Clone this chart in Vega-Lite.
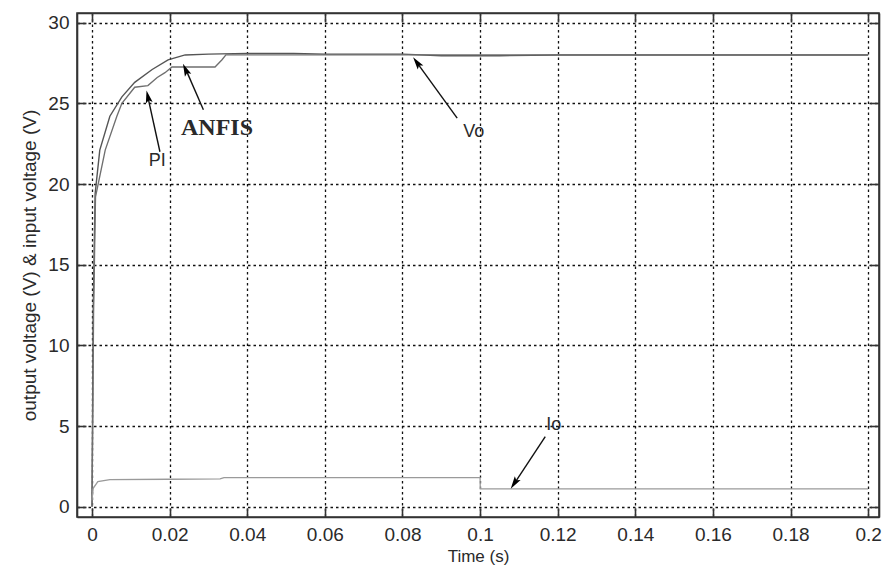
{
  "$schema": "https://vega.github.io/schema/vega-lite/v6.json",
  "width": 802,
  "height": 504,
  "autosize": {"type": "none"},
  "padding": {"left": 77, "top": 13, "right": 4, "bottom": 58},
  "background": "white",
  "config": {
    "view": {"stroke": "#333", "strokeWidth": 1.6},
    "axis": {
      "labelFont": "Liberation Sans",
      "titleFont": "Liberation Sans",
      "labelFontSize": 19,
      "titleFontSize": 17,
      "labelColor": "#2a2a2a",
      "titleColor": "#2a2a2a",
      "titleFontWeight": "normal",
      "domainColor": "#333",
      "domainWidth": 1.6,
      "tickColor": "#333",
      "tickWidth": 1.6,
      "tickSize": -9,
      "gridColor": "#111",
      "gridDash": [2.5, 3],
      "gridWidth": 1.3,
      "gridOpacity": 1
    }
  },
  "datasets": {
    "curves": [
      {"t": 0, "v": 0, "series": "ANFIS"},
      {"t": 0.0003, "v": 12, "series": "ANFIS"},
      {"t": 0.0008, "v": 19.4, "series": "ANFIS"},
      {"t": 0.002, "v": 22.1, "series": "ANFIS"},
      {"t": 0.0046, "v": 24.2, "series": "ANFIS"},
      {"t": 0.0077, "v": 25.4, "series": "ANFIS"},
      {"t": 0.011, "v": 26.3, "series": "ANFIS"},
      {"t": 0.0155, "v": 27.1, "series": "ANFIS"},
      {"t": 0.0196, "v": 27.7, "series": "ANFIS"},
      {"t": 0.024, "v": 28.0, "series": "ANFIS"},
      {"t": 0.03, "v": 28.05, "series": "ANFIS"},
      {"t": 0.04, "v": 28.1, "series": "ANFIS"},
      {"t": 0.052, "v": 28.1, "series": "ANFIS"},
      {"t": 0.06, "v": 28.05, "series": "ANFIS"},
      {"t": 0.08, "v": 28.05, "series": "ANFIS"},
      {"t": 0.09, "v": 27.95, "series": "ANFIS"},
      {"t": 0.105, "v": 27.95, "series": "ANFIS"},
      {"t": 0.12, "v": 28.0, "series": "ANFIS"},
      {"t": 0.2, "v": 28.0, "series": "ANFIS"},
      {"t": 0, "v": 0, "series": "PI"},
      {"t": 0.0004, "v": 12, "series": "PI"},
      {"t": 0.0009, "v": 19.2, "series": "PI"},
      {"t": 0.0034, "v": 22.1, "series": "PI"},
      {"t": 0.0064, "v": 24.2, "series": "PI"},
      {"t": 0.0077, "v": 25.0, "series": "PI"},
      {"t": 0.011, "v": 26.0, "series": "PI"},
      {"t": 0.0144, "v": 26.1, "series": "PI"},
      {"t": 0.0168, "v": 26.6, "series": "PI"},
      {"t": 0.0188, "v": 26.9, "series": "PI"},
      {"t": 0.0206, "v": 27.25, "series": "PI"},
      {"t": 0.0317, "v": 27.25, "series": "PI"},
      {"t": 0.0335, "v": 27.7, "series": "PI"},
      {"t": 0.0345, "v": 28.0, "series": "PI"},
      {"t": 0.06, "v": 28.0, "series": "PI"},
      {"t": 0.1, "v": 28.0, "series": "PI"},
      {"t": 0.2, "v": 28.0, "series": "PI"},
      {"t": 0, "v": 0.4, "series": "Io"},
      {"t": 0.0003, "v": 1.14, "series": "Io"},
      {"t": 0.0015, "v": 1.55, "series": "Io"},
      {"t": 0.0046, "v": 1.68, "series": "Io"},
      {"t": 0.02, "v": 1.7, "series": "Io"},
      {"t": 0.033, "v": 1.72, "series": "Io"},
      {"t": 0.034, "v": 1.8, "series": "Io"},
      {"t": 0.1, "v": 1.8, "series": "Io"},
      {"t": 0.10005, "v": 1.1, "series": "Io"},
      {"t": 0.2, "v": 1.1, "series": "Io"}
    ],
    "arrows": [
      {"name": "PI", "t": 0.0175, "v": 22.0, "t2": 0.0143, "v2": 25.5},
      {"name": "ANFIS", "t": 0.0287, "v": 24.6, "t2": 0.0240, "v2": 27.2},
      {"name": "Vo", "t": 0.0941, "v": 24.08, "t2": 0.0835, "v2": 27.6},
      {"name": "Io", "t": 0.1168, "v": 4.34, "t2": 0.1086, "v2": 1.35}
    ],
    "heads": [
      {"name": "PI", "t": 0.0144, "v": 25.42, "angle": 347.5},
      {"name": "ANFIS", "t": 0.0241, "v": 27.1, "angle": 336},
      {"name": "Vo", "t": 0.0837, "v": 27.54, "angle": 324},
      {"name": "Io", "t": 0.1088, "v": 1.44, "angle": 213.5}
    ],
    "sansLabels": [
      {"label": "PI", "t": 0.0168, "v": 21.4},
      {"label": "Vo", "t": 0.0984, "v": 23.25},
      {"label": "Io", "t": 0.119, "v": 5.06}
    ],
    "serifLabels": [
      {"label": "ANFIS", "t": 0.0322, "v": 23.46}
    ]
  },
  "resolve": {"axis": {"x": "independent", "y": "independent"}},
  "layer": [
    {
      "data": {"name": "curves"},
      "mark": {"type": "line", "interpolate": "linear"},
      "encoding": {
        "x": {
          "field": "t", "type": "quantitative",
          "scale": {"domain": [-0.00387, 0.2028], "nice": false, "zero": false},
          "axis": {"orient": "bottom", "title": "Time (s)", "format": "~g", "values": [0, 0.02, 0.04, 0.06, 0.08, 0.1, 0.12, 0.14, 0.16, 0.18, 0.2], "labelPadding": 17, "titlePadding": 4, "labelFlush": false}
        },
        "y": {
          "field": "v", "type": "quantitative",
          "scale": {"domain": [-0.64, 30.6], "nice": false, "zero": false},
          "axis": {"orient": "left", "title": "output voltage (V) & input voltage (V)", "format": "~g", "values": [0, 5, 10, 15, 20, 25, 30], "labelPadding": 17, "titlePadding": 8, "titleFontSize": 19}
        },
        "detail": {"field": "series"},
        "color": {
          "field": "series", "type": "nominal",
          "scale": {"domain": ["ANFIS", "PI", "Io"], "range": ["#555555", "#6f6f6f", "#9a9a9a"]},
          "legend": null
        },
        "strokeWidth": {
          "field": "series", "type": "nominal",
          "scale": {"domain": ["ANFIS", "PI", "Io"], "range": [1.4, 1.3, 1.6]},
          "legend": null
        }
      }
    },
    {
      "data": {"name": "curves"},
      "mark": {"type": "point", "opacity": 0},
      "encoding": {
        "x": {"field": "t", "type": "quantitative", "axis": {"orient": "top", "labels": false, "title": null, "grid": false, "values": [0, 0.02, 0.04, 0.06, 0.08, 0.1, 0.12, 0.14, 0.16, 0.18, 0.2]}},
        "y": {"field": "v", "type": "quantitative", "axis": {"orient": "right", "labels": false, "title": null, "grid": false, "values": [0, 5, 10, 15, 20, 25, 30]}}
      }
    },
    {
      "data": {"name": "arrows"},
      "mark": {"type": "rule", "color": "#111", "strokeWidth": 1.4},
      "encoding": {
        "x": {"field": "t", "type": "quantitative", "axis": null},
        "y": {"field": "v", "type": "quantitative", "axis": null},
        "x2": {"field": "t2"},
        "y2": {"field": "v2"}
      }
    },
    {
      "data": {"name": "heads"},
      "mark": {"type": "point", "shape": "M0,-1L0.55,1L0,0.6L-0.55,1Z", "filled": true, "color": "#000", "size": 160, "opacity": 1},
      "encoding": {
        "x": {"field": "t", "type": "quantitative", "axis": null},
        "y": {"field": "v", "type": "quantitative", "axis": null},
        "angle": {"field": "angle", "type": "quantitative", "scale": null}
      }
    },
    {
      "data": {"name": "sansLabels"},
      "mark": {"type": "text", "font": "Liberation Sans", "fontSize": 18, "color": "#2a2a2a"},
      "encoding": {
        "x": {"field": "t", "type": "quantitative", "axis": null},
        "y": {"field": "v", "type": "quantitative", "axis": null},
        "text": {"field": "label"}
      }
    },
    {
      "data": {"name": "serifLabels"},
      "mark": {"type": "text", "font": "Liberation Serif", "fontSize": 24, "fontWeight": "bold", "color": "#2a2a2a"},
      "encoding": {
        "x": {"field": "t", "type": "quantitative", "axis": null},
        "y": {"field": "v", "type": "quantitative", "axis": null},
        "text": {"field": "label"}
      }
    }
  ]
}
